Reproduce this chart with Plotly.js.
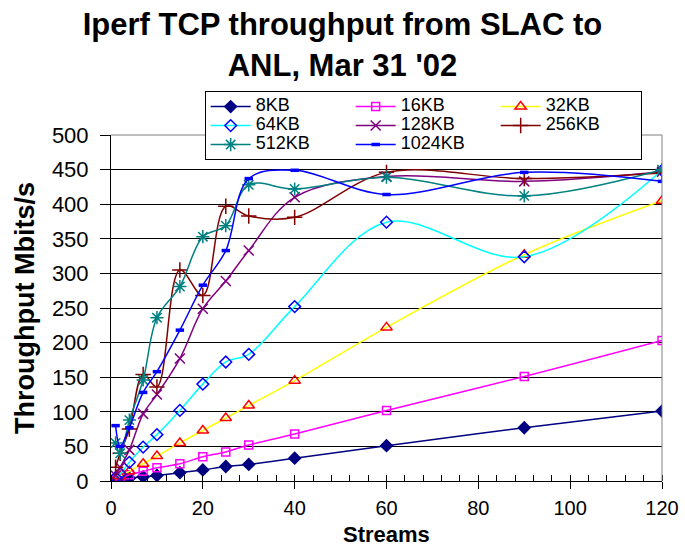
<!DOCTYPE html>
<html>
<head>
<meta charset="utf-8">
<script src="https://cdn.plot.ly/plotly-3.0.1.min.js"></script>
<style>html,body{margin:0;padding:0;background:#fff;}#chart{width:685px;height:550px;}</style>
</head>
<body>
<div id="chart"></div>
<script>
const streams = [1, 2, 4, 7, 10, 15, 20, 25, 30, 40, 60, 90, 120];
const seriesNames = ["8KB", "16KB", "32KB", "64KB", "128KB", "256KB", "512KB", "1024KB"];
const kb8    = [1, 2, 4, 6, 8, 12, 16, 21, 24, 33, 51, 77, 101];
const kb16   = [2, 4, 9, 14, 19, 25, 35, 42, 52, 68, 102, 151, 203];
const kb32   = [3, 7, 14, 25, 36, 55, 73, 91, 109, 145, 222, 327, 405];
const kb64   = [5, 10, 27, 49, 67, 102, 140, 172, 183, 252, 374, 324, 449];
const kb128  = [8, 20, 45, 97, 125, 177, 249, 289, 333, 410, 440, 433, 447];
const kb256  = [20, 40, 75, 154, 136, 305, 268, 397, 383, 381, 446, 437, 445];
const kb512  = [55, 40, 88, 146, 236, 281, 353, 369, 428, 422, 439, 412, 450];
const kb1024 = [80, 50, 77, 128, 158, 218, 283, 333, 437, 449, 414, 446, 433];

const seriesValues = [kb8, kb16, kb32, kb64, kb128, kb256, kb512, kb1024];
const lineColors   = ["#000080", "#FF00FF", "#FFFF00", "#00FFFF", "#800080", "#800000", "#008080", "#0000FF"];
const markerColors = ["#000080", "#FF00FF", "#FF0000", "#0000FF", "#800080", "#800000", "#008080", "#0000FF"];
const symbols      = ["diamond", "square-open", "triangle-up-open", "diamond-open", "x-thin-open", "cross-thin-open", "asterisk-open", "line-ew-open"];
const sizes        = [9, 8, 10, 9, 10, 11, 11, 6];

const traces = seriesNames.map((name, i) => ({
  type: "scatter",
  mode: "lines+markers",
  name: '<span style="font-size:18px">' + name + '</span>',
  x: streams,
  y: seriesValues[i],
  line: {color: lineColors[i], width: 1.5, shape: "spline", smoothing: 1},
  marker: {symbol: symbols[i], size: sizes[i], color: markerColors[i],
           line: {color: markerColors[i], width: i === 7 ? 3.5 : 1.5}}
}));

const layout = {
  width: 685, height: 550,
  margin: {l: 111, r: 23, t: 135, b: 69},
  paper_bgcolor: "#ffffff", plot_bgcolor: "#ffffff",
  font: {family: "Liberation Sans, Arial, sans-serif", color: "#000"},
  showlegend: true,
  title: {
    text: "<b>Iperf TCP throughput from SLAC to<br>ANL, Mar 31 '02</b>",
    font: {size: 31, family: "Liberation Sans, Arial, sans-serif", color: "#000"},
    x: 0.5, xref: "container", xanchor: "center",
    y: 0.936, yref: "container", yanchor: "top"
  },
  xaxis: {
    range: [0, 120], dtick: 20, tick0: 0,
    showgrid: false, zeroline: false,
    showline: true, linecolor: "#000", linewidth: 1,
    ticks: "outside", ticklen: 7, tickcolor: "#000",
    ticklabelstandoff: 2,
    tickfont: {size: 20, color: "#000"},
    minor: {dtick: 4, ticks: "inside", ticklen: 6, tickcolor: "#000", showgrid: false}
  },
  yaxis: {
    range: [0, 500], dtick: 50, tick0: 0,
    showgrid: true, gridcolor: "#000", gridwidth: 1,
    zeroline: false,
    showline: true, linecolor: "#000", linewidth: 1,
    ticks: "outside", ticklen: 10, tickcolor: "#000",
    ticklabelstandoff: 7,
    tickfont: {size: 22, color: "#000"},
    title: {text: "<b>Throughput Mbits/s</b>", font: {size: 27, color: "#000"}, standoff: 9}
  },
  annotations: [
    {text: "<b>Streams</b>", xref: "paper", yref: "paper", x: 0.5, y: -0.1965,
     xanchor: "center", yanchor: "bottom", showarrow: false,
     font: {size: 22, color: "#000", family: "Liberation Sans, Arial, sans-serif"}}
  ],
  legend: {
    orientation: "h",
    x: 0.17, xanchor: "left",
    y: 1.127, yanchor: "top",
    bgcolor: "#ffffff", bordercolor: "#000", borderwidth: 1,
    font: {size: 11, color: "#000"},
    itemwidth: 40,
    entrywidth: 90, entrywidthmode: "pixels",
    traceorder: "normal"
  },
  shapes: [
    {type: "line", xref: "paper", yref: "paper", x0: 0, x1: 1, y0: 1, y1: 1, line: {color: "#808080", width: 1}, layer: "above"},
    {type: "line", xref: "paper", yref: "paper", x0: 1, x1: 1, y0: 0, y1: 1, line: {color: "#808080", width: 1}, layer: "above"}
  ]
};

Plotly.newPlot("chart", traces, layout, {displayModeBar: false, staticPlot: true});
</script>
</body>
</html>
